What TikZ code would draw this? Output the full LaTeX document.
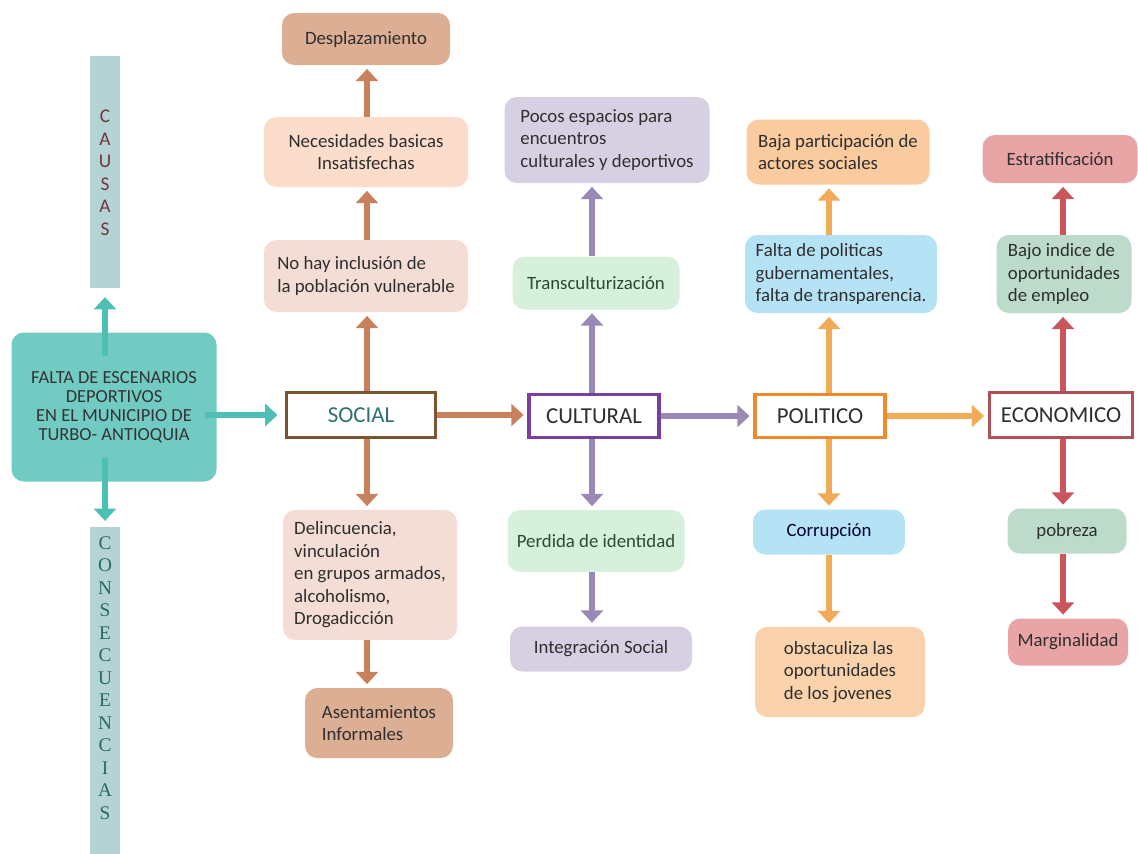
\documentclass[tikz,border=0pt]{standalone}
\usepackage{fontspec}
\setmainfont{Carlito}
\newfontfamily\barserif{Liberation Serif}
\usetikzlibrary{arrows.meta,positioning}

\definecolor{txtgray}{HTML}{2E2E2E}
\definecolor{tealbox}{HTML}{72CBC3}
\definecolor{tealarr}{HTML}{4DBFB5}
\definecolor{barfill}{HTML}{B4D3D5}
\definecolor{socline}{HTML}{7B5530}
\definecolor{socarr}{HTML}{C9805C}
\definecolor{culline}{HTML}{7A3E9D}
\definecolor{cularr}{HTML}{9A88B6}
\definecolor{polline}{HTML}{F0892B}
\definecolor{polarr}{HTML}{F2AA57}
\definecolor{ecoline}{HTML}{B0515A}
\definecolor{ecoarr}{HTML}{C8565C}
\definecolor{tanbox}{HTML}{DCAE94}
\definecolor{peachbox}{HTML}{FCDCCA}
\definecolor{rosebox}{HTML}{F4DDD4}
\definecolor{lilacbox}{HTML}{D7D0E3}
\definecolor{mintbox}{HTML}{D6F0DC}
\definecolor{orangebox}{HTML}{F9CB9E}
\definecolor{skybox}{HTML}{B6E2F5}
\definecolor{pinkbox}{HTML}{E9A5A6}
\definecolor{sagebox}{HTML}{BCDBCB}
\definecolor{greentxt}{HTML}{2B4A35}

\newcommand{\pxu}{0.02cm}

\tikzset{
  every node/.style={font=\fontsize{10.7}{12.8}\selectfont, text=txtgray},
  box/.style={rounded corners=7pt, inner sep=2pt},
  topic/.style={draw, line width=2.2pt, fill=white, inner sep=2pt,
    font=\fontsize{13}{15}\selectfont},
  bar/.style={fill=barfill, minimum width=30*\pxu},
  link/.style={line width=2.9pt, -{Triangle[width=12.5pt,length=7pt]}, shorten >=2pt},
}

\begin{document}
\begin{tikzpicture}[x=\pxu, y=-\pxu]
\useasboundingbox (0,0) rectangle (1138,853);

% left side
\node[bar, minimum height=232*\pxu] (causas) at (105,172) {};
\node[text=ecoline!65!black, font=\fontsize{11}{12.8}\selectfont, align=center] (causastxt) at (105,173) {C\\A\\U\\S\\A\\S};
\node[bar, minimum height=327*\pxu] (consec) at (105,690) {};
\node[text=tealarr!55!black, font=\barserif\fontsize{11}{12.8}\selectfont, align=center] (consectxt) at (105,678) {C\\O\\N\\S\\E\\C\\U\\E\\N\\C\\I\\A\\S};

\node[box, fill=tealbox, minimum width=205*\pxu, minimum height=149*\pxu, align=center,
  font=\fontsize{10.5}{10.8}\selectfont, text=black!80] (falta) at (114,407)
  {FALTA DE ESCENARIOS\\DEPORTIVOS\\ EN EL MUNICIPIO DE\\TURBO- ANTIOQUIA};
\coordinate (upstart) at (105,356);
\coordinate (downstart) at (105,458);
\draw[link, tealarr, shorten >=5pt] (upstart) -- (causas.south);
\draw[link, tealarr, shorten >=3pt] (downstart) -- (consec.north);

% main row
\node[topic, draw=socline, text=tealarr!60!black, minimum width=149*\pxu, minimum height=45*\pxu] (social) at (361,415) {SOCIAL};
\node[topic, draw=culline, minimum width=130*\pxu, minimum height=43*\pxu] (cultural) at (594,416) {CULTURAL};
\node[topic, draw=polline, minimum width=130*\pxu, minimum height=43*\pxu] (politico) at (820,416) {POLITICO};
\node[topic, draw=ecoline, minimum width=143*\pxu, minimum height=45*\pxu] (economico) at (1061,415) {ECONOMICO};

\coordinate (rightstart) at (205,415);
\draw[link, tealarr, shorten >=4pt] (rightstart) -- (social.west);
\draw[link, socarr] (social.east) -- (social.east -| cultural.west);
\draw[link, cularr] (cultural.east) -- (cultural.east -| politico.west);
\draw[link, polarr] (politico.east) -- (politico.east -| economico.west);

% columns
\coordinate (colsoc) at (367,0);
\coordinate (colcul) at (592,0);
\coordinate (colpol) at (829,0);
\coordinate (coleco) at (1063,0);

% social
\node[box, fill=tanbox, minimum width=168*\pxu, minimum height=52*\pxu] (desplaz) at (366,39) {Desplazamiento};
\node[box, fill=peachbox, minimum width=204*\pxu, minimum height=70*\pxu, align=center] (necesid) at (366,152) {Necesidades basicas\\ Insatisfechas};
\node[box, fill=rosebox, minimum width=204*\pxu, minimum height=72*\pxu, align=left] (inclus) at (366,276) {No hay inclusión de\\la población vulnerable};
\node[box, fill=rosebox, minimum width=174*\pxu, minimum height=130*\pxu, align=left] (delinc) at (370,575) {Delincuencia,\\vinculación\\en grupos armados,\\alcoholismo,\\Drogadicción};
\node[box, fill=tanbox, minimum width=148*\pxu, minimum height=70*\pxu, align=left] (asent) at (379,723) {Asentamientos\\Informales};

\draw[link, socarr] (social.north -| colsoc) -- (colsoc |- inclus.south);
\draw[link, socarr] (inclus.north -| colsoc) -- (colsoc |- necesid.south);
\draw[link, socarr] (necesid.north -| colsoc) -- (colsoc |- desplaz.south);
\draw[link, socarr] (social.south -| colsoc) -- (colsoc |- delinc.north);
\draw[link, socarr] (delinc.south -| colsoc) -- (colsoc |- asent.north);

% cultural
\node[box, fill=lilacbox, minimum width=205*\pxu, minimum height=86*\pxu, align=left] (pocos) at (607,140) {Pocos espacios para\\encuentros\\culturales y deportivos};
\node[box, fill=mintbox, text=greentxt, minimum width=167*\pxu, minimum height=53*\pxu] (transc) at (596,283) {Transculturización};
\node[box, fill=mintbox, text=greentxt, minimum width=177*\pxu, minimum height=62*\pxu] (perdida) at (596,541) {Perdida de identidad};
\node[box, fill=lilacbox, minimum width=182*\pxu, minimum height=45*\pxu] (integ) at (601,649) {Integración Social};

\draw[link, cularr] (cultural.north -| colcul) -- (colcul |- transc.south);
\draw[link, cularr] (transc.north -| colcul) -- (colcul |- pocos.south);
\draw[link, cularr] (cultural.south -| colcul) -- (colcul |- perdida.north);
\draw[link, cularr] (perdida.south -| colcul) -- (colcul |- integ.north);

% politico
\node[box, fill=orangebox, minimum width=183*\pxu, minimum height=65*\pxu, align=left] (baja) at (838,152) {Baja participación de\\actores sociales};
\node[box, fill=skybox, minimum width=192*\pxu, minimum height=78*\pxu, align=left] (faltapol) at (841,274) {Falta de politicas\\gubernamentales,\\falta de transparencia.};
\node[box, fill=skybox, text=blue!20!black, minimum width=152*\pxu, minimum height=45*\pxu] (corrup) at (829,532) {Corrupción};
\node[box, fill=orangebox!85!white, minimum width=170*\pxu, minimum height=90*\pxu, align=left] (obstac) at (840,672) {obstaculiza las\\oportunidades\\de los jovenes};

\draw[link, polarr] (politico.north -| colpol) -- (colpol |- faltapol.south);
\draw[link, polarr] (faltapol.north -| colpol) -- (colpol |- baja.south);
\draw[link, polarr] (politico.south -| colpol) -- (colpol |- corrup.north);
\draw[link, polarr] (corrup.south -| colpol) -- (colpol |- obstac.north);

% economico
\node[box, fill=pinkbox, minimum width=155*\pxu, minimum height=48*\pxu] (estrat) at (1060,159) {Estratificación};
\node[box, fill=sagebox, minimum width=135*\pxu, minimum height=78*\pxu, align=left] (bajoind) at (1064,274) {Bajo indice de\\oportunidades\\de empleo};
\node[box, fill=sagebox, minimum width=119*\pxu, minimum height=45*\pxu] (pobreza) at (1067,531) {pobreza};
\node[box, fill=pinkbox, minimum width=120*\pxu, minimum height=47*\pxu] (margin) at (1068,642) {Marginalidad};

\draw[link, ecoarr] (economico.north -| coleco) -- (coleco |- bajoind.south);
\draw[link, ecoarr] (bajoind.north -| coleco) -- (coleco |- estrat.south);
\draw[link, ecoarr] (economico.south -| coleco) -- (coleco |- pobreza.north);
\draw[link, ecoarr] (pobreza.south -| coleco) -- (coleco |- margin.north);
\end{tikzpicture}
\end{document}
